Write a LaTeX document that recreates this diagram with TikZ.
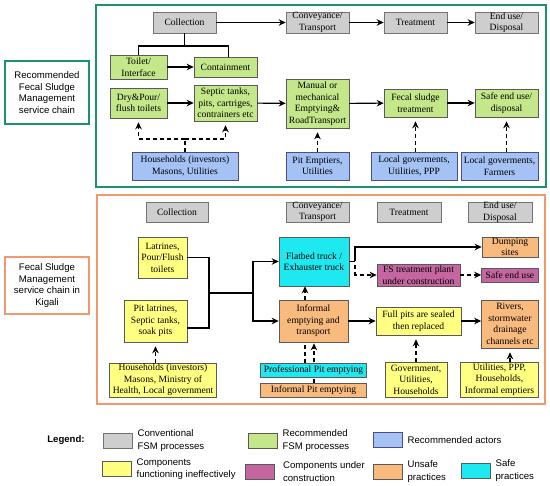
\documentclass[tikz,border=0pt]{standalone}
\usepackage{fontspec}
\setmainfont{Liberation Serif}
\newfontfamily\sansfont{Liberation Sans}
\usetikzlibrary{arrows.meta,positioning,backgrounds}

\definecolor{procgray}{RGB}{206,206,206}
\definecolor{recgreen}{RGB}{196,231,138}
\definecolor{actorblue}{RGB}{164,194,244}
\definecolor{weakyellow}{RGB}{255,255,130}
\definecolor{unsafeorange}{RGB}{249,186,126}
\definecolor{safecyan}{RGB}{30,232,240}
\definecolor{buildpurple}{RGB}{198,102,160}
\definecolor{framegreen}{RGB}{26,146,108}
\definecolor{frameorange}{RGB}{242,152,112}

\tikzset{
    box/.style={draw=black!65, line width=0.6pt, align=center, inner sep=0pt, font=\fontsize{9.6}{11.5}\selectfont},
    box size/.style 2 args={minimum width=#1pt, minimum height=#2pt},
    gray node/.style={box, fill=procgray, draw=black!55},
    green node/.style={box, fill=recgreen},
    blue node/.style={box, fill=actorblue, draw=blue!35!black!70},
    yellow node/.style={box, fill=weakyellow},
    orange node/.style={box, fill=unsafeorange},
    cyan node/.style={box, fill=safecyan},
    purple node/.style={box, fill=buildpurple},
    link/.style={line width=1.1pt},
    flow/.style={link, -{Stealth[length=7pt,width=6.5pt]}},
    dashlink/.style={link, dash pattern=on 4pt off 3pt},
    actor/.style={dashlink, -{Stealth[length=7pt,width=6.5pt]}, shorten >=4pt},
    side label/.style={draw, line width=1.5pt, align=center, font=\sansfont\fontsize{9.6}{11.8}\selectfont},
    key/.style={box size={29}{15}, line width=0.8pt},
    key text/.style={align=left, inner sep=0pt, font=\sansfont\fontsize{9.6}{12.5}\selectfont}
    }

\begin{document}
\begin{tikzpicture}[x=1pt, y=-1pt]
    \useasboundingbox (0,0) rectangle (550,486);

    % recommended chain
    \draw[framegreen, line width=1.5pt] (96,5) rectangle (546,187);
    \node(recchain)[side label, draw=framegreen, box size={84}{63}] at (47,92.5)
        {Recommended\\Fecal Sludge\\Management\\service chain};

    \node(col1)[gray node, box size={63}{21}] at (184.5,22.5) {Collection};
    \node(conv1)[gray node, box size={63}{21}] at (317.5,22.5) {Conveyance/\\Transport};
    \node(treat1)[gray node, box size={63}{21}] at (415.5,22.5) {Treatment};
    \node(end1)[gray node, box size={63}{21}] at (506.5,22.5) {End use/\\Disposal};

    \node(toilet)[green node, box size={57}{24}] at (138.5,67) {Toilet/\\Interface};
    \node(contain)[green node, box size={63}{20}] at (225.5,67) {Containment};
    \node(dry)[green node, box size={57}{30}] at (138.5,103) {Dry\&Pour/\\flush toilets};
    \node(septic)[green node, box size={63}{36}] at (225.5,103) {Septic tanks,\\pits, cartriges,\\contrainers etc};
    \node(manual)[green node, box size={63}{49}] at (317.5,103.5) {Manual or\\mechanical\\Emptying\&\\RoadTransport};
    \node(fstreat)[green node, box size={63}{28}] at (415.5,103) {Fecal sludge\\treatment};
    \node(safe)[green node, box size={63}{28}] at (506.5,103) {Safe end use/\\disposal};

    \node(hh1)[blue node, box size={106}{28}] at (185,166) {Households (investors)\\Masons, Utilities};
    \node(pitemp)[blue node, box size={63}{28}] at (317.5,166) {Pit Emptiers,\\Utilities};
    \node(locgov1)[blue node, box size={86}{28}] at (414,166) {Local goverments,\\Utilities, PPP};
    \node(locgov2)[blue node, box size={77}{28}] at (499.5,166) {Local goverments,\\Farmers};

    \draw[flow] (col1) -- (conv1);
    \draw[flow] (conv1) -- (treat1);
    \draw[flow] (treat1) -- (end1);
    \coordinate(colsplit) at (184.5,46);
    \draw[link] (col1.south) -- (colsplit) -| (toilet.north);
    \draw[link] (colsplit) -| ([xshift=3pt]contain.north);
    \draw[flow] (toilet) -- (contain);
    \draw[flow] (dry) -- (septic);
    \draw[flow] (septic) -- (manual);
    \draw[flow] (manual) -- (fstreat);
    \draw[flow] (fstreat) -- (safe);

    \coordinate(hhsplit) at (185,139);
    \draw[dashlink] (hh1.north) -- (hhsplit);
    \draw[actor] (hhsplit) -| (dry.south);
    \draw[actor] (hhsplit) -| (septic.south);
    \draw[actor] (pitemp) -- (manual);
    \draw[actor] (locgov1.north -| fstreat.south) -- (fstreat.south);
    \draw[actor] (locgov2.north -| safe.south) -- (safe.south);

    % Kigali chain
    \draw[frameorange, line width=1.5pt] (97,195) rectangle (545,404);
    \node(kigchain)[side label, draw=frameorange, box size={84}{57}] at (47,285.5)
        {Fecal Sludge\\Management\\service chain in\\Kigali};

    \node(col2)[gray node, box size={62}{20}] at (177,212) {Collection};
    \node(conv2)[gray node, box size={63}{20}] at (317.5,212) {Conveyance/\\Transport};
    \node(treat2)[gray node, box size={64}{20}] at (409,212) {Treatment};
    \node(end2)[gray node, box size={64}{20}] at (500,212) {End use/\\Disposal};

    \node(latr)[yellow node, box size={49}{41}] at (162.5,257.5) {Latrines,\\Pour/Flush\\toilets};
    \node(pitlat)[yellow node, box size={63}{42}] at (155.5,321) {Pit latrines,\\Septic tanks,\\soak pits};
    \node(flatbed)[cyan node, box size={70}{49}] at (314,261.5) {Flatbed truck /\\Exhauster truck};
    \node(informal)[orange node, box size={69}{42}] at (313.5,321) {Informal\\emptying and\\transport};
    \node(prof)[cyan node, box size={106}{14}] at (313.5,370) {Professional Pit emptying};
    \node(infpit)[orange node, box size={106}{14}] at (313.5,390) {Informal Pit emptying};
    \node(dump)[orange node, box size={56}{20}] at (510,247) {Dumping\\sites};
    \node(fsplant)[purple node, box size={83}{22}] at (418.5,275) {FS treatment plant\\under construction};
    \node(safeuse)[purple node, box size={57}{14}] at (510,275) {Safe end use};
    \node(fullpits)[yellow node, box size={85}{28}] at (418.5,321) {Full pits are sealed\\then replaced};
    \node(rivers)[orange node, box size={57}{48}] at (510,324) {Rivers,\\stormwater\\drainage\\channels etc};

    \node(hh2)[yellow node, box size={107}{34}] at (163,380) {Households (investors)\\Masons, Ministry of\\Health, Local government};
    \node(govt)[yellow node, box size={62}{35}] at (416,379.5) {Government,\\Utilities,\\Households};
    \node(utilppp)[yellow node, box size={78}{35}] at (499.5,379.5) {Utilities, PPP,\\Households,\\Informal emptiers};

    \coordinate(joint) at (209,293);
    \coordinate(fork) at (253,293);
    \draw[link] (latr.east) -| (joint);
    \draw[link] ([yshift=-7pt]pitlat.east) -| (joint);
    \draw[link] (joint) -- (fork);
    \draw[flow] (fork) |- (flatbed.west);
    \draw[flow] (fork) |- (informal.west);

    \coordinate(fbsplit) at (355,261.5);
    \draw[link] (flatbed.east) -- (fbsplit);
    \draw[flow] (fbsplit) |- (dump.west);
    \draw[dashlink, -{Stealth[length=7pt,width=6.5pt]}] ([yshift=-4pt]fbsplit) |- (fsplant.west);
    \draw[dashlink, -{Stealth[length=7pt,width=6.5pt]}] (fsplant) -- (safeuse);
    \draw[flow] (informal) -- (fullpits);
    \draw[flow] (fullpits.east |- informal.east) -- (rivers.west |- informal.east);

    \draw[actor] (hh2.north -| pitlat.south) -- (pitlat.south);
    \draw[actor] (govt.north) -- (govt.north |- fullpits.south);
    \draw[actor] (utilppp.north -| rivers.south) -- (rivers.south);
    \begin{scope}[on background layer]
        \draw[actor, shorten >=0pt] ([xshift=-8.5pt]prof.north) -- ([xshift=-9pt]flatbed.south);
        \draw[actor, shorten >=1pt] ([xshift=0.5pt]infpit.north) -- ([xshift=0.5pt]informal.south);
    \end{scope}

    % legend
    \node(legend)[font=\sansfont\bfseries\fontsize{9.6}{12}\selectfont] at (66,440) {Legend:};
    \node(k1)[gray node, key] at (117.5,440.5) {};
    \node[key text, right=5pt of k1] {Conventional\\FSM processes};
    \node(k2)[green node, key] at (262.5,440.5) {};
    \node[key text, right=5pt of k2] {Recommended\\FSM processes};
    \node(k3)[blue node, key] at (387.5,440) {};
    \node[key text, right=5pt of k3] {Recommended actors};
    \node(k4)[yellow node, key] at (116.5,469) {};
    \node[key text, right=5pt of k4] {Components\\functioning ineffectively};
    \node(k5)[purple node, key] at (260,471.5) {};
    \node[key text, right=8pt of k5] {Components under\\construction};
    \node(k6)[orange node, key] at (387.5,471.5) {};
    \node[key text, right=5pt of k6] {Unsafe\\practices};
    \node(k7)[cyan node, key] at (475.5,470.5) {};
    \node[key text, right=5pt of k7] {Safe\\practices};
\end{tikzpicture}
\end{document}
